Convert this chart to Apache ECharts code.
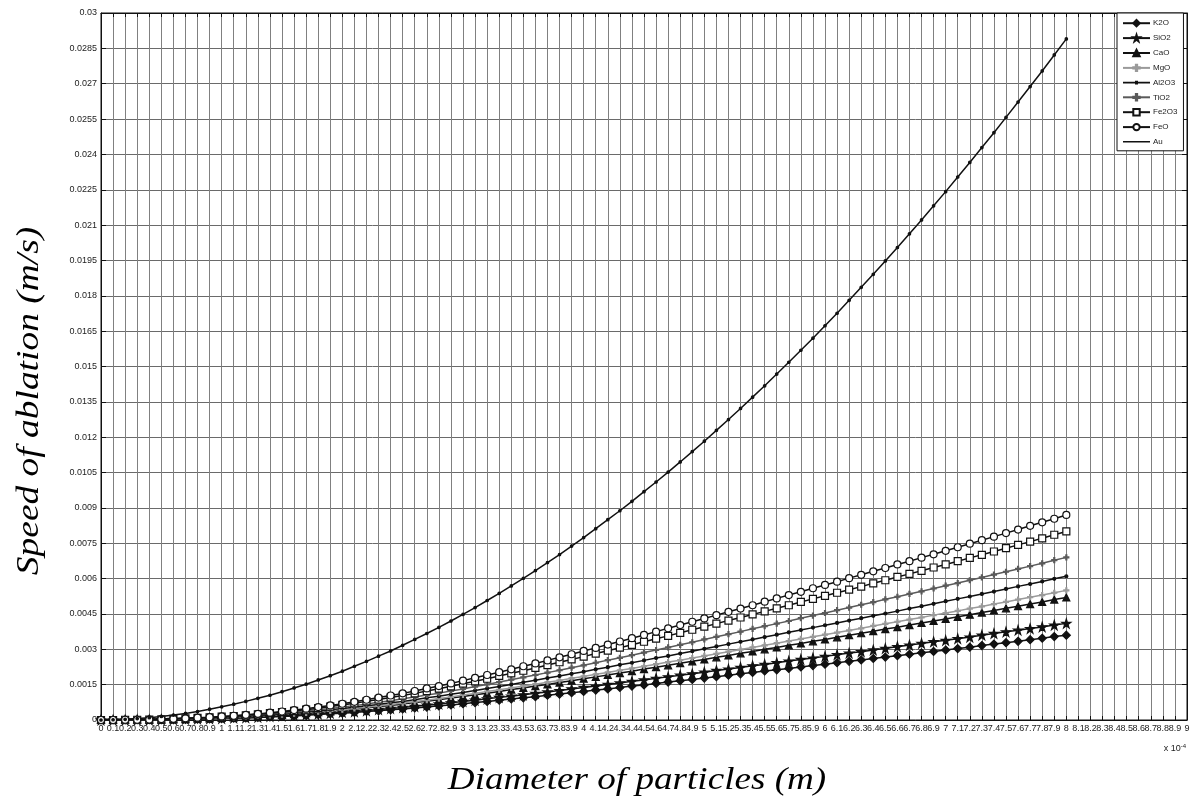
<!DOCTYPE html>
<html>
<head>
<meta charset="utf-8">
<title>Speed of ablation vs particle diameter</title>
<script src="https://cdn.jsdelivr.net/npm/echarts@6/dist/echarts.min.js"></script>
<style>
  html, body { margin: 0; padding: 0; background: #fff; }
  #chart { width: 1194px; height: 800px; }
</style>
</head>
<body>
<div id="chart"></div>
<script>
// Particle diameter (x 10^-4 m)
const diameter = [0,0.1,0.2,0.3,0.4,0.5,0.6,0.7,0.8,0.9,1,1.1,1.2,1.3,1.4,1.5,1.6,1.7,1.8,1.9,
  2,2.1,2.2,2.3,2.4,2.5,2.6,2.7,2.8,2.9,3,3.1,3.2,3.3,3.4,3.5,3.6,3.7,3.8,3.9,
  4,4.1,4.2,4.3,4.4,4.5,4.6,4.7,4.8,4.9,5,5.1,5.2,5.3,5.4,5.5,5.6,5.7,5.8,5.9,
  6,6.1,6.2,6.3,6.4,6.5,6.6,6.7,6.8,6.9,7,7.1,7.2,7.3,7.4,7.5,7.6,7.7,7.8,7.9,8];

// Speed of ablation (m/s) for each material
const K2O = [0,0,0,0.00001,0.00001,0.00002,0.00002,0.00003,0.00004,0.00005,0.00006,0.00008,0.00009,0.00011,0.00013,0.00015,0.00017,0.0002,0.00023,0.00026,
  0.00029,0.00032,0.00036,0.00039,0.00043,0.00047,0.00051,0.00055,0.0006,0.00064,0.00069,0.00074,0.00079,0.00084,0.00089,0.00094,0.00099,0.00105,0.0011,0.00116,
  0.00121,0.00127,0.00132,0.00138,0.00144,0.00149,0.00155,0.00161,0.00167,0.00172,0.00178,0.00184,0.0019,0.00196,0.00202,0.00208,0.00213,0.00219,0.00225,0.00231,
  0.00237,0.00243,0.00249,0.00255,0.00261,0.00267,0.00273,0.00279,0.00285,0.00291,0.00297,0.00303,0.00309,0.00316,0.00322,0.00328,0.00334,0.00341,0.00347,0.00354,0.0036];
const SiO2 = [0,0,0,0.00001,0.00001,0.00002,0.00003,0.00004,0.00005,0.00006,0.00007,0.00009,0.0001,0.00012,0.00015,0.00017,0.0002,0.00023,0.00026,0.00029,
  0.00033,0.00036,0.0004,0.00045,0.00049,0.00053,0.00058,0.00063,0.00068,0.00073,0.00079,0.00084,0.0009,0.00096,0.00101,0.00107,0.00113,0.00119,0.00125,0.00132,
  0.00138,0.00144,0.00151,0.00157,0.00164,0.0017,0.00177,0.00183,0.0019,0.00196,0.00203,0.0021,0.00216,0.00223,0.0023,0.00236,0.00243,0.0025,0.00257,0.00263,
  0.0027,0.00277,0.00284,0.0029,0.00297,0.00304,0.00311,0.00318,0.00325,0.00332,0.00338,0.00345,0.00352,0.0036,0.00367,0.00374,0.00381,0.00388,0.00395,0.00403,0.0041];
const CaO = [0,0,0,0.00001,0.00001,0.00002,0.00003,0.00004,0.00006,0.00007,0.00009,0.00011,0.00013,0.00016,0.00019,0.00022,0.00025,0.00029,0.00033,0.00037,
  0.00041,0.00046,0.00051,0.00057,0.00062,0.00068,0.00074,0.0008,0.00086,0.00093,0.001,0.00107,0.00114,0.00121,0.00129,0.00136,0.00144,0.00151,0.00159,0.00167,
  0.00175,0.00183,0.00191,0.00199,0.00207,0.00216,0.00224,0.00232,0.00241,0.00249,0.00257,0.00266,0.00274,0.00283,0.00291,0.003,0.00308,0.00317,0.00325,0.00334,
  0.00342,0.00351,0.0036,0.00368,0.00377,0.00386,0.00394,0.00403,0.00412,0.0042,0.00429,0.00438,0.00447,0.00456,0.00465,0.00474,0.00483,0.00492,0.00501,0.00511,0.0052];
const MgO = [0,0,0,0.00001,0.00002,0.00002,0.00003,0.00005,0.00006,0.00008,0.0001,0.00012,0.00014,0.00017,0.0002,0.00023,0.00027,0.0003,0.00035,0.00039,
  0.00044,0.00049,0.00054,0.0006,0.00066,0.00072,0.00078,0.00084,0.00091,0.00098,0.00106,0.00113,0.00121,0.00128,0.00136,0.00144,0.00152,0.0016,0.00168,0.00177,
  0.00185,0.00194,0.00202,0.00211,0.00219,0.00228,0.00237,0.00246,0.00254,0.00263,0.00272,0.00281,0.0029,0.00299,0.00308,0.00317,0.00326,0.00335,0.00344,0.00353,
  0.00362,0.00371,0.0038,0.00389,0.00399,0.00408,0.00417,0.00426,0.00435,0.00445,0.00454,0.00463,0.00473,0.00482,0.00492,0.00501,0.00511,0.00521,0.0053,0.0054,0.0055];
const Al2O3 = [0,0,0,0.00001,0.00002,0.00003,0.00004,0.00005,0.00007,0.00009,0.00011,0.00013,0.00016,0.00019,0.00022,0.00025,0.00029,0.00034,0.00038,0.00043,
  0.00049,0.00054,0.0006,0.00066,0.00073,0.00079,0.00086,0.00094,0.00101,0.00109,0.00117,0.00125,0.00134,0.00142,0.00151,0.0016,0.00169,0.00178,0.00187,0.00196,
  0.00205,0.00215,0.00224,0.00234,0.00243,0.00253,0.00263,0.00272,0.00282,0.00292,0.00302,0.00312,0.00322,0.00332,0.00342,0.00352,0.00362,0.00372,0.00382,0.00392,
  0.00402,0.00412,0.00422,0.00432,0.00442,0.00452,0.00462,0.00473,0.00483,0.00493,0.00504,0.00514,0.00524,0.00535,0.00545,0.00556,0.00567,0.00577,0.00588,0.00599,0.0061];
const TiO2 = [0,0,0,0.00001,0.00002,0.00003,0.00004,0.00006,0.00008,0.0001,0.00012,0.00015,0.00018,0.00021,0.00025,0.00029,0.00033,0.00038,0.00043,0.00049,
  0.00055,0.00061,0.00068,0.00075,0.00082,0.0009,0.00098,0.00106,0.00114,0.00123,0.00132,0.00142,0.00151,0.00161,0.00171,0.00181,0.00191,0.00201,0.00211,0.00222,
  0.00232,0.00243,0.00254,0.00264,0.00275,0.00286,0.00297,0.00308,0.00319,0.0033,0.00342,0.00353,0.00364,0.00375,0.00387,0.00398,0.00409,0.0042,0.00432,0.00443,
  0.00454,0.00466,0.00477,0.00489,0.005,0.00512,0.00523,0.00535,0.00546,0.00558,0.0057,0.00581,0.00593,0.00605,0.00617,0.00629,0.00641,0.00653,0.00665,0.00678,0.0069];
const Fe2O3 = [0,0,0.00001,0.00001,0.00002,0.00003,0.00005,0.00007,0.00009,0.00011,0.00014,0.00017,0.0002,0.00024,0.00029,0.00033,0.00039,0.00044,0.0005,0.00057,
  0.00064,0.00071,0.00079,0.00087,0.00095,0.00104,0.00113,0.00123,0.00133,0.00143,0.00154,0.00164,0.00175,0.00187,0.00198,0.00209,0.00221,0.00233,0.00245,0.00257,
  0.00269,0.00282,0.00294,0.00307,0.00319,0.00332,0.00345,0.00357,0.0037,0.00383,0.00396,0.00409,0.00422,0.00435,0.00448,0.00461,0.00474,0.00487,0.00501,0.00514,
  0.00527,0.0054,0.00553,0.00566,0.0058,0.00593,0.00607,0.0062,0.00633,0.00647,0.0066,0.00674,0.00688,0.00701,0.00715,0.00729,0.00743,0.00757,0.00771,0.00786,0.008];
const FeO = [0,0,0.00001,0.00001,0.00002,0.00004,0.00005,0.00007,0.0001,0.00012,0.00015,0.00018,0.00022,0.00026,0.00031,0.00036,0.00042,0.00048,0.00055,0.00062,
  0.00069,0.00077,0.00086,0.00095,0.00104,0.00113,0.00123,0.00134,0.00144,0.00155,0.00167,0.00179,0.00191,0.00203,0.00215,0.00228,0.0024,0.00253,0.00266,0.00279,
  0.00293,0.00306,0.0032,0.00333,0.00347,0.00361,0.00375,0.00389,0.00403,0.00417,0.00431,0.00445,0.00459,0.00473,0.00487,0.00502,0.00516,0.0053,0.00544,0.00559,
  0.00573,0.00587,0.00602,0.00616,0.00631,0.00645,0.0066,0.00674,0.00689,0.00703,0.00718,0.00733,0.00748,0.00763,0.00778,0.00793,0.00808,0.00824,0.00839,0.00854,0.0087];
const Au = [0,0.00001,0.00003,0.00006,0.0001,0.00015,0.00021,0.00028,0.00036,0.00046,0.00056,0.00067,0.00079,0.00092,0.00105,0.0012,0.00136,0.00152,0.0017,0.00188,
  0.00207,0.00228,0.00249,0.00271,0.00293,0.00317,0.00342,0.00367,0.00393,0.0042,0.00448,0.00477,0.00507,0.00537,0.00569,0.00601,0.00634,0.00668,0.00702,0.00738,
  0.00774,0.00812,0.0085,0.00888,0.00928,0.00969,0.0101,0.01052,0.01095,0.01139,0.01183,0.01229,0.01275,0.01322,0.0137,0.01418,0.01468,0.01518,0.01569,0.0162,
  0.01673,0.01726,0.01781,0.01836,0.01891,0.01948,0.02005,0.02063,0.02122,0.02182,0.02242,0.02304,0.02366,0.02429,0.02492,0.02557,0.02622,0.02688,0.02754,0.02822,0.0289];

// Axis ranges and tick steps
const xRange = [0, 9];
const xStep = 0.1;
const yRange = [0, 0.03];
const yStep = 0.0015;

const BLACK = '#111';
const STAR = 'path://M50,0 L61,35 L98,35 L68,57 L79,91 L50,70 L21,91 L32,57 L2,35 L39,35 Z';
const PLUS = 'path://M4,0 L6,0 L6,4 L10,4 L10,6 L6,6 L6,10 L4,10 L4,6 L0,6 L0,4 L4,4 Z';
// Legend keys: a line with an optional small dot (corner specks keep the 27x8 box)
const KEY_LINE = 'path://M0,0L0.01,0L0,0.01Z M27,8L26.99,8L27,7.99Z M0,3.2L27,3.2L27,4.8L0,4.8Z';
const KEY_DOT = KEY_LINE + ' M12,2.2L15,2.2L15,5.8L12,5.8Z';

function lineSeries(name, values, symbol, size, lineColor, fill) {
  return {
    type: 'line',
    name: name,
    data: diameter.map((d, i) => [d, values[i]]),
    symbol: symbol,
    symbolSize: size,
    showAllSymbol: true,
    xAxisIndex: 0,
    yAxisIndex: 0,
    lineStyle: { color: lineColor, width: 1.5 },
    itemStyle: { color: fill, borderColor: lineColor, borderWidth: 1.2 },
    emphasis: { disabled: true },
    animation: false
  };
}

const series = [
  lineSeries('K2O', K2O, 'diamond', 8, BLACK, BLACK),
  lineSeries('SiO2', SiO2, STAR, 9, BLACK, BLACK),
  lineSeries('CaO', CaO, 'triangle', 7, BLACK, BLACK),
  lineSeries('MgO', MgO, PLUS, 5, '#9a9a9a', '#9a9a9a'),
  lineSeries('Al2O3', Al2O3, 'circle', 3, BLACK, BLACK),
  lineSeries('TiO2', TiO2, PLUS, 5, '#5a5a5a', '#5a5a5a'),
  lineSeries('Fe2O3', Fe2O3, 'rect', 7, BLACK, '#fff'),
  lineSeries('FeO', FeO, 'circle', 7, BLACK, '#fff'),
  lineSeries('Au', Au, 'circle', 2.5, BLACK, BLACK)
];

const legendData = series.map(s => {
  if (s.name === 'Au') return { name: s.name, icon: KEY_LINE, itemStyle: { borderWidth: 0, color: BLACK } };
  if (s.name === 'Al2O3') return { name: s.name, icon: KEY_DOT, itemStyle: { borderWidth: 0, color: BLACK } };
  return { name: s.name };
});

const tickFont = { fontFamily: 'Liberation Sans, Arial, sans-serif', fontSize: 9, color: '#222' };
const titleFont = 'italic 32px "Liberation Serif", "Times New Roman", serif';

const chart = echarts.init(document.getElementById('chart'), null, { renderer: 'canvas' });
chart.setOption({
  backgroundColor: '#fff',
  animation: false,
  grid: {
    left: 101, top: 13, right: 7, bottom: 80,
    show: true, borderColor: BLACK, borderWidth: 1, backgroundColor: '#fff'
  },
  legend: {
    orient: 'vertical',
    left: 1117, top: 13,
    data: legendData,
    itemWidth: 27, itemHeight: 8, itemGap: 6.5,
    padding: [6, 6, 5, 5],
    backgroundColor: '#fff',
    borderColor: BLACK, borderWidth: 1,
    textStyle: { fontFamily: 'Liberation Sans, Arial, sans-serif', fontSize: 8, color: '#222', padding: [0, 0, 0, -2] },
    selectedMode: false
  },
  xAxis: [
    {
      type: 'value', min: xRange[0], max: xRange[1], interval: xStep,
      position: 'bottom',
      axisLine: { show: true, onZero: false, lineStyle: { color: BLACK, width: 1 } },
      axisTick: { show: true, inside: true, length: 4, lineStyle: { color: BLACK } },
      axisLabel: Object.assign({ margin: 4, formatter: v => String(+v.toFixed(1)) }, tickFont),
      splitLine: { show: true, lineStyle: { color: '#808080', width: 1 } }
    },
    {
      type: 'value', min: xRange[0], max: xRange[1], interval: xStep,
      position: 'top',
      axisLine: { show: true, onZero: false, lineStyle: { color: BLACK, width: 1 } },
      axisTick: { show: true, inside: true, length: 4, lineStyle: { color: BLACK } },
      axisLabel: { show: false },
      splitLine: { show: false }
    }
  ],
  yAxis: [
    {
      type: 'value', min: yRange[0], max: yRange[1], interval: yStep,
      position: 'left',
      axisLine: { show: true, onZero: false, lineStyle: { color: BLACK, width: 1 } },
      axisTick: { show: true, inside: true, length: 5, lineStyle: { color: BLACK } },
      axisLabel: Object.assign({ margin: 4, formatter: v => String(+v.toFixed(4)) }, tickFont),
      splitLine: { show: true, lineStyle: { color: '#6a6a6a', width: 1 } }
    },
    {
      type: 'value', min: yRange[0], max: yRange[1], interval: yStep,
      position: 'right',
      axisLine: { show: true, onZero: false, lineStyle: { color: BLACK, width: 1 } },
      axisTick: { show: true, inside: true, length: 5, lineStyle: { color: BLACK } },
      axisLabel: { show: false },
      splitLine: { show: false }
    }
  ],
  graphic: [
    {
      type: 'text', x: 637, y: 781, scaleX: 1.16,
      style: { text: 'Diameter of particles (m)', font: titleFont, fill: '#000', align: 'center', verticalAlign: 'middle' }
    },
    {
      type: 'text', x: 30, y: 401, rotation: Math.PI / 2, scaleX: 1.17,
      style: { text: 'Speed of ablation (m/s)', font: titleFont, fill: '#000', align: 'center', verticalAlign: 'middle' }
    },
    {
      type: 'text', x: 1186, y: 749,
      style: {
        text: '{b|x 10}{s|-4}',
        align: 'right', verticalAlign: 'middle',
        rich: {
          b: { fontFamily: 'Liberation Sans, Arial, sans-serif', fontSize: 9, fill: '#222' },
          s: { fontFamily: 'Liberation Sans, Arial, sans-serif', fontSize: 6, fill: '#222', verticalAlign: 'top', padding: [0, 0, 6, 0] }
        }
      }
    }
  ],
  series: series
});
</script>
</body>
</html>
